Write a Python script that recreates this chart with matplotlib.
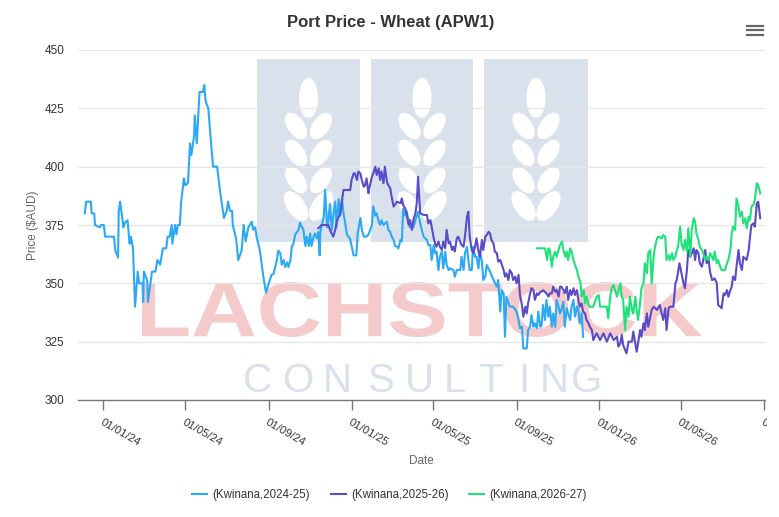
import numpy as np
import pandas as pd
import matplotlib
matplotlib.use('Agg')
import matplotlib.pyplot as plt
import matplotlib.dates as mdates
from matplotlib.patches import Rectangle, Ellipse, PathPatch
from matplotlib.textpath import TextPath
from matplotlib.font_manager import FontProperties
from matplotlib.transforms import Affine2D, Bbox, TransformedBbox

plt.rcParams['font.family'] = ['Liberation Sans', 'DejaVu Sans']

# ---- data (days counted from 01/01/24, price in $AUD) ----
start = pd.Timestamp('2024-01-01')

blue_days = [-27, -25, -18, -17, -13, -12, -5, -3, 1, 3, 16, 18, 22, 23, 25, 30, 32, 36, 39, 41,
             44, 47, 51, 53, 58, 59, 60, 64, 65, 66, 72, 77, 80, 84, 88, 93, 95, 98, 101, 102,
             106, 108, 110, 113, 115, 119, 121, 125, 128, 130, 134, 135, 138, 142, 147, 149, 151, 155, 159, 162,
             168, 172, 174, 178, 182, 184, 187, 190, 191, 196, 199, 204, 207, 210, 214,
             219, 221, 224, 226, 231, 236, 240, 244, 248, 251, 256, 258, 261, 263, 266, 268, 271, 273, 276, 278,
             280, 283, 288, 290, 293, 295, 298, 300, 303, 305, 307, 310, 312, 315, 317, 319, 320, 325, 327, 330,
             332, 334, 337, 339, 342, 344, 347, 349, 352, 354, 356, 359, 364, 366, 369, 373, 375, 379, 381, 384,
             388, 391, 396, 398, 401, 403, 406, 408, 410, 413, 418, 420, 423, 425, 428, 430, 433, 435, 438, 440,
             442, 445, 447, 452,
             457, 464, 467, 472, 477, 479, 482, 484, 487, 489, 491, 494, 496, 499, 501, 504, 506, 509, 511, 516,
             518, 521, 526, 528, 531, 533, 536, 538, 540, 543, 545, 548, 550, 553, 555, 558, 560, 563, 565, 570,
             575, 580, 582, 585, 587, 590, 592, 594, 599, 604, 609, 612, 614, 617, 619, 624, 626, 629, 631, 634,
             636, 639, 641, 644, 646, 648, 651, 653, 656, 658, 661, 663, 666, 668, 671, 673, 675, 678, 680, 683,
             685, 688, 690, 693, 695, 698, 700, 702, 705, 707]
blue_price = [380, 385, 385, 380, 380, 375, 374, 375, 375, 370, 370, 364, 361, 381, 385, 374, 376, 377, 367, 370,
              365, 340, 355, 350, 350, 342, 355, 352, 351, 342, 355, 355, 360, 358, 365, 365, 370, 370, 375, 367,
              375, 371, 375, 375, 385, 395, 392, 393, 410, 405, 413, 422, 410, 432, 432, 435, 428, 425, 410, 400,
              400, 390, 386, 378, 381, 385, 381, 381, 375, 369, 360, 364, 375, 368, 374,
              376.4, 373, 374, 370, 364, 353, 346, 350, 353.6, 354, 360, 364, 363, 358, 360, 357, 359, 357, 360, 366,
              366.4, 371, 373, 376, 374, 373, 366, 370, 366, 371.4, 366, 370, 371.4, 369.3, 372, 362, 372, 378.6, 390, 374,
              377, 384, 373, 379, 385, 374, 386, 379, 386, 380, 377, 371, 369, 366, 362, 362, 371.4, 378, 373, 370,
              370, 371, 375, 383, 379, 380, 376.4, 375, 377, 375, 376.4, 373, 372, 370, 368.6, 366, 365.7, 365, 368.6, 368,
              382, 379, 381, 374,
              374, 380.7, 375.7, 370, 368.6, 366.4, 366.4, 360, 366.4, 362.9, 363.6, 355.7, 361.4, 363.6, 356.4, 363.6, 357.9, 355.7, 356.4, 355.7,
              352.9, 355.7, 355.7, 361.4, 355.7, 362.9, 365.7, 360, 355.7, 355.7, 365.7, 361.4, 361.4, 356.4, 363.6, 359.3, 351.4, 352.9, 357.9, 355,
              351.4, 348.6, 351.4, 337.9, 347.1, 345.7, 327.1, 344.3, 340, 340, 337.9, 334.3, 330.7, 331.4, 322.1, 322.1, 330, 331.4, 336.4, 331.4,
              332.9, 330.7, 337.9, 331.4, 332.1, 340.7, 334.3, 342.9, 335.7, 340, 331.4, 337.1, 331.4, 342.9, 340, 337.1, 338.6, 342.1, 331.4, 339.3,
              337.1, 334.3, 340, 342.9, 335.7, 340, 338.6, 332.9, 337.1, 327.1]

purple_days = [317, 322, 332, 334, 339, 342, 344, 347, 349, 352, 354, 364, 366, 369, 371, 374, 376, 379, 381, 384,
               386, 388, 391, 392, 396, 398, 401, 403, 406, 408, 410, 413, 415, 418, 420, 423, 425, 428, 433, 438,
               440, 442, 445, 447, 450,
               452, 455, 457, 460, 462, 464, 467, 472, 477, 479, 482, 484, 487, 489, 491, 494, 496, 499, 501, 504,
               506, 509, 511, 514, 516, 518, 521, 523, 526, 528, 531, 533, 536, 538, 540, 543, 545, 548, 550, 553,
               555, 558, 560, 563, 565, 568, 570, 572, 575, 577, 580, 582, 585, 590, 592, 594, 597, 599, 602, 604,
               607, 609, 612, 614, 617, 619, 622, 624, 626, 629, 631, 634, 636, 639, 641, 644, 646, 648, 653, 656,
               658, 661, 663, 666, 668, 671, 673, 675, 678, 680, 683, 685, 688, 690, 693, 695, 698, 700, 702, 705,
               707, 710, 712, 715, 717, 720, 722, 727,
               732, 737, 742, 747, 752, 757, 759, 762, 764, 766, 771, 774, 779, 781, 786, 788, 791, 793, 796, 798,
               801, 803, 808, 811, 816, 820, 825, 828, 830, 833, 835, 840, 843, 845, 849, 852, 855, 857, 860, 862,
               865, 870, 872, 874, 877, 879, 882, 887, 889, 892, 894, 897, 901, 904, 906, 909, 911, 914, 916, 919,
               921, 924, 926, 928, 931, 933, 936, 938, 941, 943, 948, 951, 953, 955, 958, 960, 963, 965, 968]
purple_price = [373.6, 375, 375, 373, 370, 373, 376.4, 378.6, 379.3, 385.7, 390, 390, 394.3, 397.1, 397.1, 394.3, 397.9, 397.1, 394.3, 391.4,
                392.1, 395, 388.6, 390.7, 395.7, 397.1, 400, 396.4, 399.3, 394.3, 397.9, 392.9, 400, 393.6, 392.1, 390.7, 387.1, 382.9, 385, 384.3,
                386.4, 383.6, 382.1, 380, 375,
                377.1, 372.9, 377.1, 380, 384.3, 395.7, 380, 379.3, 379.3, 375.7, 377.1, 374.3, 369.3, 367.1, 365.7, 367.9, 365.7, 364.3, 367.9, 365,
                372.9, 367.1, 367.9, 364.3, 365.7, 363.6, 369.3, 370, 367.9, 366.4, 365.7, 370, 378.6, 380.7, 370, 364.3, 362.9, 365.7, 369.3, 363.6,
                361.4, 368.6, 364.3, 370, 370.7, 372.1, 371.4, 368.6, 367.1, 363.6, 362.9, 359.3, 360, 355.7, 352.9, 354.3, 351.4, 355.7, 354.3, 351.4,
                352.9, 350, 353.6, 345, 340.7, 335.7, 340, 337.1, 341.4, 345.7, 347.9, 347.1, 342.9, 345.7, 345, 346.4, 346.4, 347.1, 345.7, 344.3,
                345.7, 345.7, 348.6, 346.4, 347.1, 344.3, 348.6, 348.6, 347.1, 345.7, 348.6, 342.9, 347.1, 345, 347.9, 345, 347.1, 342.9, 340, 341.4,
                337.9, 337.1, 334.3, 332.9, 331.4, 330, 325.7, 328.6,
                325.7, 328.6, 325, 328.6, 325.7, 327.1, 322.9, 324.3, 327.9, 323.6, 320, 325, 325, 329.3, 320.7, 324.3, 330, 327.1, 332.9, 330,
                337.1, 331.4, 338.6, 340, 338.6, 340.7, 334.3, 339.3, 330, 339.3, 340, 340, 350, 351.4, 358.6, 354.3, 350, 347.9, 355.7, 364.3,
                361.4, 365, 360, 364.3, 362.9, 358.6, 357.1, 364.3, 358.6, 360, 355, 351.4, 352.1, 350, 340.7, 340, 339.3, 345.7, 345, 347.1,
                344.3, 347.1, 348.6, 352.9, 351.4, 357.1, 364.3, 358.6, 355.7, 361.4, 360, 364.3, 370, 375, 375.7, 374.3, 384.3, 385, 377.9]

green_days = [639, 651, 654, 656, 658, 661, 663, 666, 668, 671, 673, 676, 678, 681, 683, 685, 688, 690, 693, 695,
              698, 700, 703, 705, 708, 710, 712, 715, 717, 722, 727, 730, 732, 737, 742, 744, 747, 749, 752, 757,
              762, 764, 766, 769, 771, 774, 776, 779, 781, 784, 786, 788, 791, 793, 796, 798, 801, 803, 806, 808,
              811, 813, 816, 818, 823, 825, 828, 830, 833, 835, 838, 840, 843, 845, 847, 850, 852, 855, 857, 860,
              862, 865, 867, 870, 872, 874, 877, 879, 882, 884, 887, 889, 892, 894, 897, 899, 901, 904, 906, 909,
              911, 916, 919, 921, 924, 926, 928, 931, 933, 936, 938, 941, 943, 946, 948, 951, 953, 955, 958, 960,
              963, 965, 968]
green_price = [365, 365, 360, 365, 364.3, 357.1, 361.4, 363.6, 361.4, 364.3, 366.4, 367.9, 364.3, 361.4, 363.6, 360, 365, 363.6, 360, 357.9,
               355.7, 352.9, 350.7, 344.3, 347.1, 341.4, 344.3, 340.7, 340, 340, 344.3, 345, 340, 340, 340, 335, 344.3, 347.9, 349.3, 344.3,
               350, 344.3, 342.9, 330, 340, 335.7, 344.3, 338.6, 337.1, 344.3, 338.6, 334.3, 341.4, 347.9, 350, 358.6, 354.3, 362.9, 364.3, 350,
               361.4, 365.7, 369.3, 370, 369.3, 370.7, 370, 360, 362.1, 360, 362.9, 360, 361.4, 364.3, 365.7, 374.3, 367.1, 364.3, 368.6, 363.6,
               373.6, 361.4, 372.9, 377.9, 376.4, 371.4, 368.6, 365.7, 364.3, 362.9, 360, 361.4, 360, 362.9, 361.4, 360, 363.6, 358.6, 360, 357.1,
               355.7, 355.7, 358.6, 360, 364.3, 371.4, 374.3, 372.9, 386.4, 382.9, 378.6, 380.7, 375.7, 377.9, 373.6, 378.6, 377.1, 382.9, 383.6, 385.7,
               392.9, 392.1, 388.6]

series_names = ['(Kwinana,2024-25)', '(Kwinana,2025-26)', '(Kwinana,2026-27)']
series_colors = ['#2ba9f4', '#5a4bc6', '#1fe27b']
y_ticks = [300, 325, 350, 375, 400, 425, 450]


def to_dates(days):
    return start + pd.to_timedelta(np.array(days), unit='D')


W, H = 779, 517
fig = plt.figure(figsize=(W / 100, H / 100), dpi=100)
ax = fig.add_axes([78 / W, 1 - 400 / H, (765 - 78) / W, 350 / H])
px = Affine2D().scale(1 / W, 1 / H) + fig.transFigure

# ---- watermark ----
box_col = '#d9e1ec'
for x0, x1 in [(257, 360), (371, 473), (484, 588)]:
    ax.add_artist(Rectangle((x0, H - 242), x1 - x0, 183, transform=px, fc=box_col, ec='none', zorder=0.3))
    c = (x0 + x1) / 2
    ax.add_artist(Ellipse((c, H - 98), 19, 40, transform=px, fc='white', ec='none', zorder=0.3))
    for yy, ln, sh in [(126, 30, 17), (153, 30, 17), (180, 30, 17), (206, 34, 18)]:
        ax.add_artist(Ellipse((c - 12.5, H - yy), ln, sh, angle=125, transform=px, fc='white', ec='none', zorder=0.3))
        ax.add_artist(Ellipse((c + 12.5, H - yy), ln, sh, angle=55, transform=px, fc='white', ec='none', zorder=0.3))

tp = TextPath((0, 0), 'LACHSTOCK', size=100, prop=FontProperties(family='Liberation Sans', weight='bold'))
ext = tp.get_extents()
tr = Affine2D().translate(-ext.x0, -ext.y0).scale(560 / ext.width, 55 / ext.height).translate(142, H - 337) + px
ax.add_artist(PathPatch(tp, transform=tr, fc='#f4caca', ec='none', zorder=0.3))

for ch, cx in zip('CONSULTING', [258, 298, 337, 381, 419, 455, 490, 524, 554, 587]):
    ax.text(cx / W, 1 - 392 / H, ch, transform=fig.transFigure, fontsize=29, color=box_col,
            ha='center', va='baseline', zorder=0.3)

# ---- series ----
for days, price, name, col in zip([blue_days, purple_days, green_days],
                                  [blue_price, purple_price, green_price],
                                  series_names, series_colors):
    ax.plot(to_dates(days), price, color=col, lw=1.5, label=name, zorder=2)

ax.set_xlim(start + pd.Timedelta(days=-37), start + pd.Timedelta(days=975))
ax.set_ylim(300, 450)
ax.set_yticks(y_ticks)
ax.set_axisbelow(True)
ax.grid(axis='y', color='#e6e6e6', lw=1)
for s in ['left', 'right', 'top']:
    ax.spines[s].set_visible(False)
ax.spines['bottom'].set_color('#777777')
ax.spines['bottom'].set_linewidth(1)

ax.xaxis.set_major_locator(mdates.MonthLocator(bymonth=[1, 5, 9]))
ax.xaxis.set_major_formatter(mdates.DateFormatter('%d/%m/%y'))
ax.tick_params(axis='x', length=7, width=1, color='#777777', pad=5, labelsize=8.1, labelcolor='#333333')
ax.tick_params(axis='y', length=0, pad=10, labelsize=8.5, labelcolor='#333333')
clip = TransformedBbox(Bbox([[0, 0], [767 / W, 1]]), fig.transFigure)
for lab in ax.get_xticklabels():
    lab.set_rotation(-30)
    lab.set_ha('left')
    lab.set_va('top')
    lab.set_rotation_mode('anchor')
    lab.set_clip_on(True)
    lab.set_clip_box(clip)

fig.text(33 / W, 1 - 225 / H, 'Price ($AUD)', rotation=90, ha='center', va='center', fontsize=8.5, color='#666666')
fig.text(421.5 / W, 1 - 461 / H, 'Date', ha='center', va='center', fontsize=8.5, color='#666666')
fig.text(391 / W, 1 - 23 / H, 'Port Price - Wheat (APW1)', ha='center', va='center', fontsize=12,
         fontweight='bold', color='#333333')

# menu icon
for yy in [25.5, 30, 34.5]:
    fig.add_artist(plt.Line2D([747, 763], [H - yy, H - yy], transform=px, color='#666666', lw=1.6))

fig.legend(loc='center', bbox_to_anchor=(0.5, 1 - 495 / H), ncol=3, frameon=False, fontsize=8.3,
           handlelength=1.3, handletextpad=0.45, columnspacing=1.8, labelcolor='#333333')

fig.savefig('out.png', dpi=100)
